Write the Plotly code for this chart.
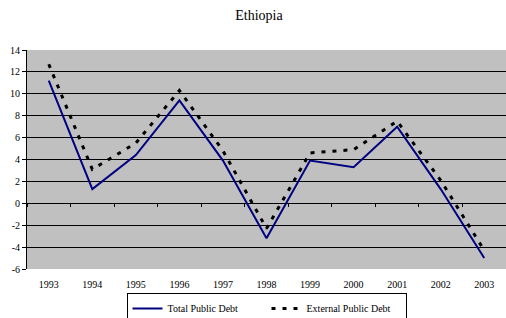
import plotly.graph_objects as go

years = ["1993", "1994", "1995", "1996", "1997", "1998", "1999", "2000", "2001", "2002", "2003"]
total_public_debt = [11.2, 1.3, 4.4, 9.4, 3.9, -3.2, 3.9, 3.3, 7.0, 1.3, -5.0]
external_public_debt = [12.7, 3.1, 5.5, 10.3, 4.8, -2.3, 4.6, 4.9, 7.5, 2.1, -4.3]

y_ticks = list(range(-6, 15, 2))
FONT = "Liberation Serif"

fig = go.Figure()
fig.add_trace(go.Scatter(
    x=years, y=total_public_debt, mode="lines", name="Total Public Debt",
    line=dict(color="#000080", width=2),
))
fig.add_trace(go.Scatter(
    x=years, y=external_public_debt, mode="lines", name="External Public Debt",
    line=dict(color="black", width=3, dash="4px,7px"),
))
# invisible trace on the secondary x axis that carries the ticks on the zero line
fig.add_trace(go.Scatter(
    x=years, y=[0] * len(years), xaxis="x2", mode="lines",
    line=dict(color="rgba(0,0,0,0)"), showlegend=False, hoverinfo="skip",
))

ymin, ymax = -6, 14
fig.update_layout(
    template="none",
    width=506, height=318,
    margin=dict(l=27, r=0, t=50, b=49, autoexpand=False),
    paper_bgcolor="white",
    plot_bgcolor="#C0C0C0",
    font=dict(family=FONT, size=10, color="black"),
    title=dict(text="Ethiopia", x=259 / 506, xanchor="center", xref="container",
               y=1 - 15 / 318, yanchor="middle", font=dict(family=FONT, size=14, color="black")),
    xaxis=dict(
        type="category", categoryarray=years, range=[-0.5, 10.5], automargin=False,
        showgrid=False, zeroline=False, showline=False, ticks="",
        tickfont=dict(family=FONT, size=10), ticklabelstandoff=8,
    ),
    xaxis2=dict(
        type="category", categoryarray=years, range=[-0.5, 10.5], automargin=False,
        overlaying="x", anchor="free", position=(0 - ymin) / (ymax - ymin),
        showgrid=False, zeroline=False, showline=False, showticklabels=False,
        ticks="outside", tickson="boundaries", ticklen=3, tickcolor="black", tickwidth=1,
    ),
    yaxis=dict(
        range=[ymin, ymax], tickvals=y_ticks, ticktext=[str(v) for v in y_ticks],
        automargin=False,
        showgrid=True, gridcolor="black", gridwidth=1,
        zeroline=False, showline=True, linecolor="black", linewidth=1,
        ticks="outside", ticklen=4, tickcolor="black",
        tickfont=dict(family=FONT, size=10),
    ),
    legend=dict(
        orientation="h", x=0.5, xanchor="center",
        yref="container", y=1 - 293 / 318, yanchor="top",
        bgcolor="white", bordercolor="black", borderwidth=1,
        font=dict(family=FONT, size=10),
        entrywidth=94, entrywidthmode="pixels",
    ),
    showlegend=True,
)

fig.write_html("out.html", post_script="document.body.style.margin='0';",
               config={"displayModeBar": False})
